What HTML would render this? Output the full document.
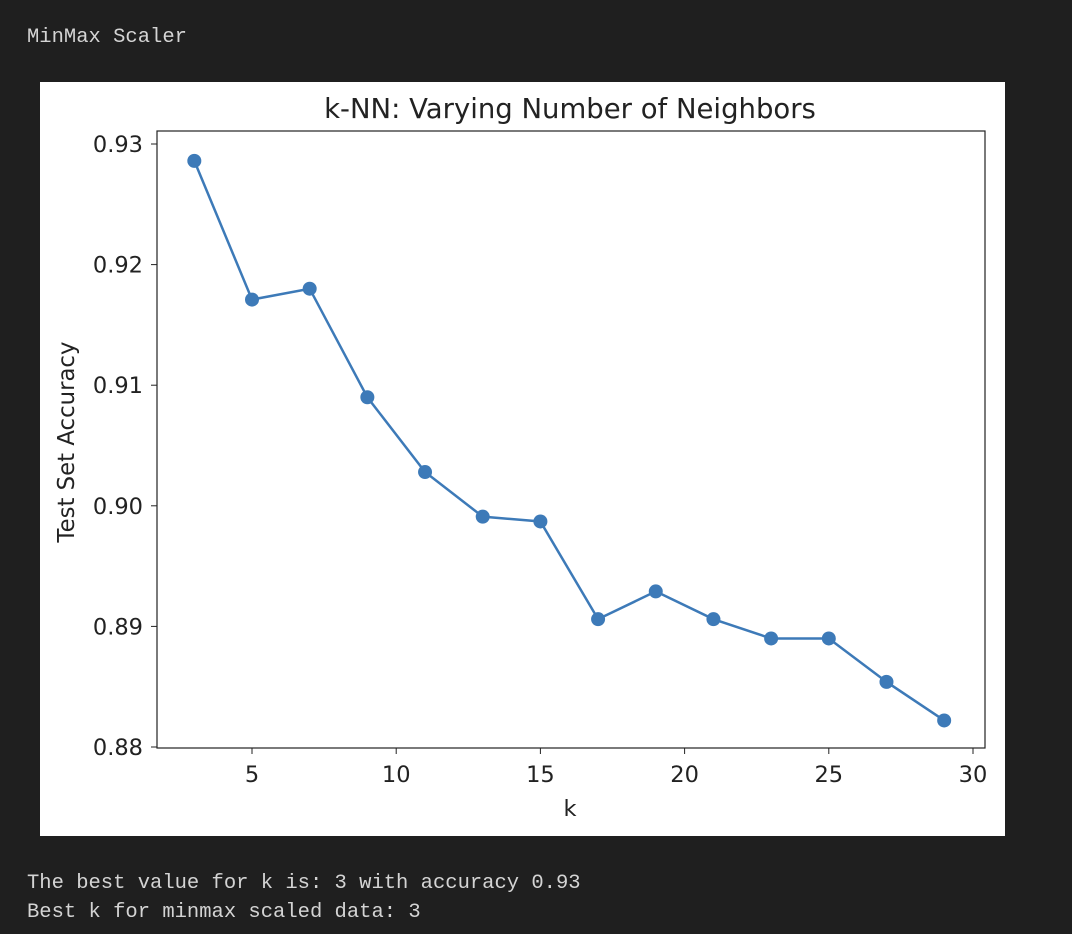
<!DOCTYPE html>
<html><head><meta charset="utf-8"><style>
body{margin:0;width:1072px;height:934px;background:#1f1f1f;overflow:hidden;position:relative;font-family:"Liberation Mono",monospace;}
.out{position:absolute;color:#d4d4d4;font-size:20.5px;white-space:pre;}
#fig{position:absolute;left:40px;top:82px;width:965px;height:754px;background:#fff;}
svg text{font-family:"DejaVu Sans","Liberation Sans",sans-serif;fill:#222;}
</style></head><body>
<div class="out" style="left:27px;top:26px">MinMax Scaler</div>
<div id="fig">
<svg id="chart" width="965" height="754"></svg>
</div>
<div class="out" style="left:27px;top:872px">The best value for k is: 3 with accuracy 0.93</div>
<div class="out" style="left:27px;top:901px">Best k for minmax scaled data: 3</div>
<script>
const kValues=[3,5,7,9,11,13,15,17,19,21,23,25,27,29];
const accuracy=[0.9286,0.9171,0.9180,0.9090,0.9028,0.8991,0.8987,0.8906,0.8929,0.8906,0.8890,0.8890,0.8854,0.8822];
const xTicks=[5,10,15,20,25,30];
const yTicks=[0.88,0.89,0.90,0.91,0.92,0.93];
const yTickLabels=["0.88","0.89","0.90","0.91","0.92","0.93"];
const NS="http://www.w3.org/2000/svg";
const svg=document.getElementById('chart');
const L=117,R=945,T=49,B=666;
function xs(v){return 212+(v-5)*28.84;}
function ys(v){return 62+(0.93-v)/0.01*120.6;}
function mk(tag,a,txt){const e=document.createElementNS(NS,tag);for(const k in a)e.setAttribute(k,a[k]);if(txt!==undefined)e.textContent=txt;svg.appendChild(e);return e;}
let e;
e=mk('rect',{x:L,y:T,width:R-L,height:B-T,fill:'none',stroke:'#222','stroke-width':1.2});


xTicks.forEach(t=>{const x=xs(t);
e=mk('line',{x1:x,x2:x,y1:B,y2:B+6,stroke:'#222'});


e=mk('text',{x:x,y:B+34,'text-anchor':'middle','font-size':22.5},String(t));


});
yTicks.forEach((t,i)=>{const y=ys(t);
e=mk('line',{x1:L-6,x2:L,y1:y,y2:y,stroke:'#222'});


e=mk('text',{x:L-14,y:y+8,'text-anchor':'end','font-size':22.5},yTickLabels[i]);


});
e=mk('text',{x:530,y:36,'text-anchor':'middle','font-size':27.5},'k-NN: Varying Number of Neighbors');


e=mk('text',{x:530,y:734,'text-anchor':'middle','font-size':22.5},'k');


e=mk('text',{x:0,y:0,'text-anchor':'middle','font-size':22.8,transform:'translate(34,360) rotate(-90)'},'Test Set Accuracy');


const pts=kValues.map((k,i)=>xs(k)+','+ys(accuracy[i])).join(' ');
e=mk('polyline',{points:pts,fill:'none',stroke:'#3d7ab8','stroke-width':2.5});


kValues.forEach((k,i)=>{
e=mk('circle',{cx:xs(k),cy:ys(accuracy[i]),r:7,fill:'#3d7ab8'});


});
</script>
</body></html>
